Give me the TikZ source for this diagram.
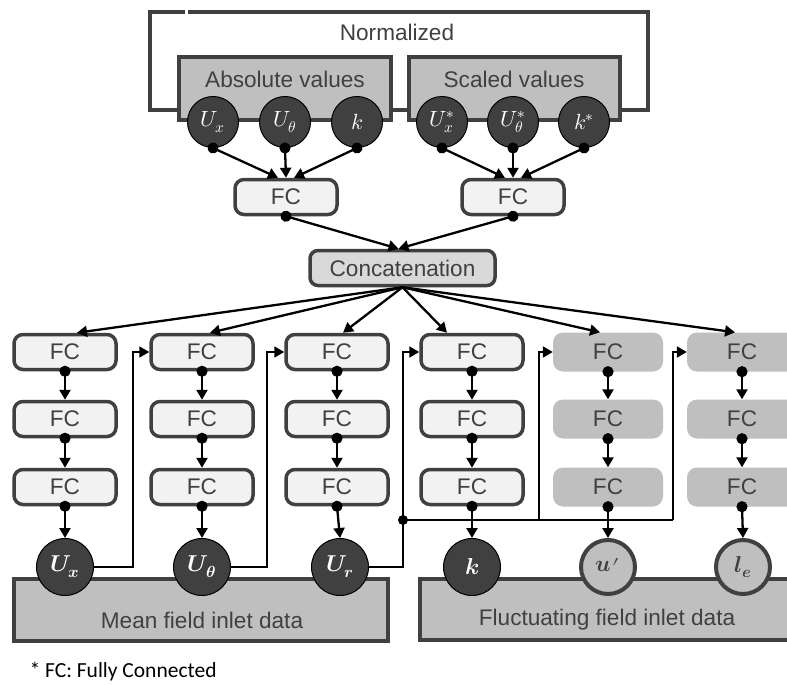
\documentclass[tikz,border=0pt]{standalone}
\usepackage{fontspec}
\usepackage{unicode-math}
\setmainfont{Liberation Sans}
\setmathfont{Latin Modern Math}
\newfontfamily\calib{Carlito}
\usetikzlibrary{arrows.meta}
\definecolor{dk}{HTML}{404040}
\definecolor{boxgray}{HTML}{BFBFBF}
\definecolor{fcfill}{HTML}{F2F2F2}
\definecolor{concfill}{HTML}{D9D9D9}
\tikzset{
  lbl/.style={font=\fontsize{22.6}{26}\selectfont, text=dk},
  grpbox/.style={draw=dk, line width=4pt, fill=boxgray},
  frameline/.style={draw=dk, line width=4pt},
  fcbox/.style={lbl, draw=dk, line width=3.5pt, fill=fcfill, rounded corners=9pt,
     minimum width=102pt, minimum height=35pt, inner sep=0pt},
  fcgray/.style={lbl, fill=boxgray, rounded corners=10pt,
     minimum width=110pt, minimum height=39pt, inner sep=0pt},
  concbox/.style={lbl, draw=dk, line width=3.5pt, fill=concfill, rounded corners=8pt,
     minimum width=185pt, minimum height=35pt, inner sep=0pt},
  topcirc/.style={circle, draw=black, line width=1pt, fill=dk, inner sep=0pt,
     minimum size=51pt, text=white, font=\fontsize{22}{24}\selectfont},
  botcirc/.style={circle, draw=black, line width=1pt, fill=dk, inner sep=0pt,
     minimum size=57pt, text=white, font=\fontsize{23}{25}\selectfont},
  botcircg/.style={circle, draw=dk, line width=4pt, fill=boxgray, inner sep=0pt,
     minimum size=54pt, text=dk, font=\fontsize{23}{25}\selectfont},
  conn/.style={line width=2.3pt, black,
     {Circle[length=11pt]}-{Triangle[length=10pt,width=11pt]}, shorten <=-5.5pt},
  plainarr/.style={line width=2.3pt, black, -{Triangle[length=10pt,width=11pt]}},
  elbowarr/.style={line width=2pt, black, -{Triangle[length=10pt,width=11pt]}},
  junction/.style={fill=black}
}
\begin{document}
\begin{tikzpicture}[x=1pt,y=-1pt]
\clip (0,0) rectangle (787,685);
\fill[white] (0,0) rectangle (787,685);

% Normalized frame
\draw[frameline] (185,12) -- (150,12) -- (150,110) -- (180,110);
\draw[frameline] (188,12) -- (648,12) -- (648,110) -- (620,110);
\draw[frameline] (391,110) -- (409,110);
\node[lbl] (norm) at (397,32) {Normalized};

% group boxes
\draw[grpbox] (179,57) rectangle (391,120);
\draw[grpbox] (409,57) rectangle (620,120);
\node[lbl] (absv) at (285,79) {Absolute values};
\node[lbl] (scav) at (514,79) {Scaled values};

% top circles
\node[topcirc] (a1) at (213,122) {$U_x$};
\node[topcirc] (a2) at (285,122) {$U_\theta$};
\node[topcirc] (a3) at (357,122) {$k$};
\node[topcirc] (s1) at (442,122) {$U_x^*$};
\node[topcirc] (s2) at (513,122) {$U_\theta^*$};
\node[topcirc] (s3) at (584,122) {$k^*$};

% top FC
\node[fcbox] (fcA) at (286,197) {FC};
\node[fcbox] (fcB) at (513,197) {FC};
\node[concbox] (conc) at (402.5,268) {Concatenation};

\draw[conn] (a1.south) -- ([xshift=-8pt]fcA.north);
\draw[conn] (a2.south) -- (fcA.north);
\draw[conn] (a3.south) -- ([xshift=8pt]fcA.north);
\draw[conn] (s1.south) -- ([xshift=-8pt]fcB.north);
\draw[conn] (s2.south) -- (fcB.north);
\draw[conn] (s3.south) -- ([xshift=8pt]fcB.north);
\draw[conn] (fcA.south) -- ([xshift=-4pt]conc.north);
\draw[conn] (fcB.south) -- ([xshift=-4pt]conc.north);

% bottom data boxes
\draw[grpbox] (14,579) rectangle (388,641);
\draw[grpbox] (420,579) rectangle (810,640);
\node[lbl] (meanl) at (202,620) {Mean field inlet data};
\node[lbl] (flucl) at (607,620) {Fluctuating field inlet data};

% columns
\foreach \c/\x/\st in {1/65/fcbox,2/202/fcbox,3/337/fcbox,4/472/fcbox,5/608/fcgray,6/742/fcgray}{
  \node[\st] (c\c1) at (\x,352) {FC};
  \node[\st] (c\c2) at (\x,419) {FC};
  \node[\st] (c\c3) at (\x,487) {FC};
  \draw[conn] (c\c1.south) -- (c\c2.north);
  \draw[conn] (c\c2.south) -- (c\c3.north);
}

% concatenation fan-out
\coordinate (cs) at (conc.south);
\draw[plainarr] (cs) -- ([xshift=12pt]c11.north);
\draw[plainarr] (cs) -- ([xshift=8pt]c21.north);
\draw[plainarr] (cs) -- ([xshift=6pt]c31.north);
\draw[plainarr] (cs) -- ([xshift=-25pt]c41.north);
\draw[plainarr] (cs) -- ([xshift=-8pt]c51.north);
\draw[plainarr] (cs) -- ([xshift=-7pt]c61.north);

% bottom circles
\node[botcirc] (bUx) at (65,567) {$\symbfit{U}_{\symbfit{x}}$};
\node[botcirc] (bUt) at (202,567) {$\symbfit{U}_{\symbfit{\theta}}$};
\node[botcirc] (bUr) at (340,567) {$\symbfit{U}_{\symbfit{r}}$};
\node[botcirc] (bk) at (472,567) {$\symbfit{k}$};
\node[botcircg] (bu) at (608,567) {$\symbfit{u}\mkern1mu\raisebox{-4pt}{$\prime$}$};
\node[botcircg] (ble) at (743,567) {$\symbfit{l}_{\symbfit{e}}$};

\draw[conn] (c13.south) -- (bUx.north);
\draw[conn] (c23.south) -- (bUt.north);
\draw[conn] (c33.south) -- (bUr.north);
\draw[conn] (c43.south) -- (bk.north);
\draw[conn] (c53.south) -- (bu.north);
\draw[conn] (c63.south) -- (ble.north);

% feed-forward elbows
\coordinate (j1) at (133,567);
\coordinate (j2) at (267,567);
\coordinate (j3) at (403,567);
\coordinate (jd) at (403,520);
\coordinate (h5) at (539,520);
\coordinate (h6) at (673,520);
\draw[elbowarr] (bUx.east) -- (j1) |- (c21.west);
\draw[elbowarr] (bUt.east) -- (j2) |- (c31.west);
\draw[elbowarr] (bUr.east) -- (j3) |- (c41.west);
\draw[line width=2pt] (jd) -- (h6);
\draw[elbowarr] (h5) |- (c51.west);
\draw[elbowarr] (h6) |- (c61.west);
\fill[junction] (jd) circle (5pt);

% footnote
\node[anchor=west, font=\calib\fontsize{21.5}{24}\selectfont, text=black] (note) at (26,672) {* FC: Fully Connected};
\end{tikzpicture}
\end{document}
